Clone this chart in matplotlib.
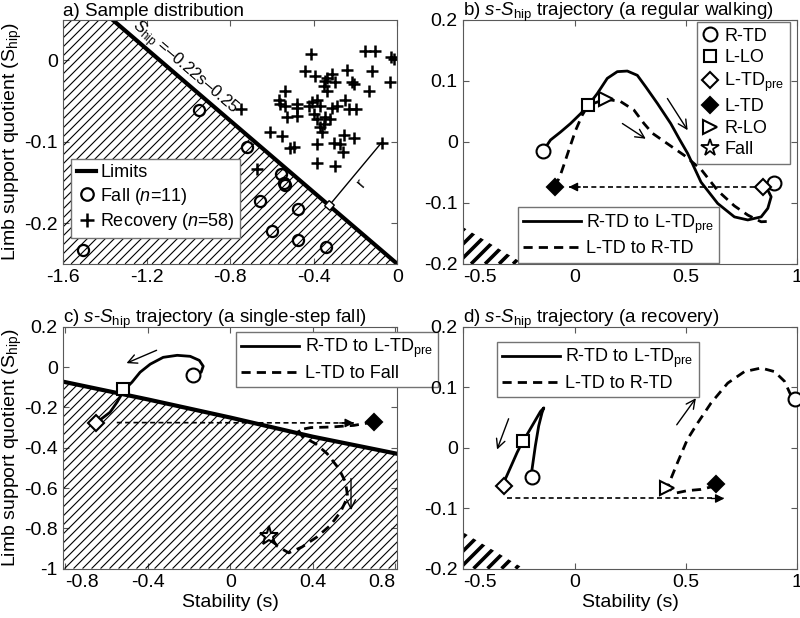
import numpy as np
import matplotlib
matplotlib.use('Agg')
import matplotlib.pyplot as plt
from matplotlib.lines import Line2D
from matplotlib.patches import Polygon
from matplotlib.ticker import FormatStrFormatter

plt.rcParams['font.family'] = ['Liberation Sans', 'DejaVu Sans']
plt.rcParams['mathtext.fontset'] = 'custom'
plt.rcParams['mathtext.rm'] = 'Liberation Sans'
plt.rcParams['mathtext.it'] = 'Liberation Sans:italic'
plt.rcParams['axes.unicode_minus'] = False

# ---- data ----
limit_slope, limit_icpt = -0.22, -0.25

# a) sample distribution
fall_s = [-0.949, -0.72, -0.555, -0.542, -0.536, -0.658, -0.475, -0.60, -0.475, -0.341, -1.507]
fall_S = [-0.061, -0.106, -0.140, -0.150, -0.153, -0.173, -0.183, -0.210, -0.221, -0.229, -0.233]
rec_s = [-0.411, -0.152, -0.104, -0.029, -0.016, -0.035, -0.12, -0.24, -0.443, -0.392, -0.344, -0.312,
         -0.352, -0.296, -0.216, -0.208, -0.136, -0.336, -0.536, -0.568, -0.536, -0.48, -0.424, -0.408,
         -0.384, -0.368, -0.312, -0.288, -0.248, -0.232, -0.195, -0.528, -0.48, -0.384, -0.344, -0.32,
         -0.368, -0.36, -0.608, -0.552, -0.512, -0.496, -0.384, -0.304, -0.272, -0.256, -0.208, -0.261,
         -0.384, -0.296, -0.747, -0.075, -0.336, -0.352, -0.48, -0.56, -0.4, -0.672]
rec_S = [0.008, 0.012, 0.012, 0.004, 0.002, -0.027, -0.013, -0.012, -0.013, -0.0185, -0.025, -0.0165,
         -0.031, -0.027, -0.027, -0.029, -0.038, -0.037, -0.038, -0.049, -0.056, -0.058, -0.056, -0.051,
         -0.049, -0.056, -0.058, -0.056, -0.049, -0.060, -0.060, -0.070, -0.068, -0.072, -0.070, -0.072,
         -0.082, -0.088, -0.088, -0.093, -0.107, -0.106, -0.103, -0.101, -0.103, -0.091, -0.095, -0.113,
         -0.126, -0.130, -0.060, -0.101, -0.021, -0.078, -0.0535, -0.0535, -0.066, -0.134]
r_point = (-0.075, -0.101)
r_foot = (-0.325, -0.178)

# b) regular walking
b_solid_s = [-0.141, -0.108, -0.063, -0.018, 0.027, 0.062, 0.102, 0.147, 0.192, 0.237, 0.282, 0.320,
             0.372, 0.432, 0.470, 0.508, 0.568, 0.643, 0.718, 0.778, 0.838, 0.868, 0.883, 0.868, 0.845]
b_solid_S = [-0.015, 0.003, 0.016, 0.030, 0.046, 0.060, 0.079, 0.104, 0.115, 0.116, 0.109, 0.090,
             0.063, 0.030, 0.005, -0.019, -0.066, -0.101, -0.123, -0.128, -0.123, -0.109, -0.090, -0.079, -0.074]
b_dash_s = [-0.089, -0.066, -0.048, -0.026, 0.005, 0.035, 0.062, 0.14, 0.207, 0.267, 0.312, 0.350,
            0.417, 0.492, 0.568, 0.643, 0.718, 0.778, 0.838, 0.890]
b_dash_S = [-0.074, -0.057, -0.038, -0.014, 0.019, 0.044, 0.060, 0.070, 0.066, 0.052, 0.030, 0.014,
            -0.003, -0.022, -0.045, -0.080, -0.105, -0.120, -0.131, -0.130]
b_rtd = ([-0.141, 0.898], [-0.015, -0.068])
b_llo = ([0.062], [0.060])
b_ltdpre = ([0.845], [-0.074])
b_ltd = ([-0.089], [-0.074])
b_rlo = ([0.14], [0.070])
b_jump = ((0.845, -0.074), (-0.026, -0.074))
b_arrows = [((0.417, 0.071), (0.508, 0.019)), ((0.215, 0.030), (0.320, 0.005))]

# c) single-step fall
c_limit_s = [-0.81, -0.4, 0.0, 0.4, 0.81]
c_limit_S = [-0.072, -0.16, -0.25, -0.345, -0.43]
c_solid_s = [-0.180, -0.141, -0.131, -0.150, -0.194, -0.257, -0.325, -0.388, -0.437, -0.476, -0.515,
             -0.549, -0.583, -0.646]
c_solid_S = [-0.040, -0.025, 0.005, 0.034, 0.054, 0.059, 0.049, 0.015, -0.025, -0.074, -0.114,
             -0.174, -0.224, -0.273]
c_dash_s = [0.697, 0.60, 0.49, 0.39, 0.33, 0.35, 0.413, 0.470, 0.527, 0.559, 0.570, 0.535, 0.486,
            0.421, 0.348, 0.284, 0.23, 0.186]
c_dash_S = [-0.272, -0.289, -0.297, -0.300, -0.312, -0.345, -0.379, -0.429, -0.504, -0.570, -0.644,
            -0.719, -0.785, -0.843, -0.893, -0.922, -0.89, -0.836]
c_rtd = ([-0.18], [-0.04])
c_llo = ([-0.518], [-0.106])
c_ltdpre = ([-0.651], [-0.275])
c_ltd = ([0.697], [-0.272])
c_fall = ([0.186], [-0.836])
c_jump = ((-0.55, -0.275), (0.60, -0.277))
c_arrows = [((-0.357, 0.084), (-0.503, 0.020)), ((0.586, -0.553), (0.586, -0.710))]

# d) recovery
d_solid_s = [-0.198, -0.191, -0.176, -0.161, -0.146, -0.138, -0.153, -0.183, -0.213, -0.231, -0.258,
             -0.288, -0.311, -0.321]
d_solid_S = [-0.047, -0.036, 0.003, 0.036, 0.058, 0.066, 0.060, 0.041, 0.022, 0.012, -0.008,
             -0.033, -0.052, -0.063]
d_dash_s = [0.635, 0.567, 0.507, 0.455, 0.417, 0.432, 0.462, 0.507, 0.553, 0.613, 0.688, 0.763,
            0.838, 0.898, 0.943, 0.980]
d_dash_S = [-0.063, -0.069, -0.071, -0.075, -0.066, -0.052, -0.025, 0.014, 0.041, 0.074, 0.107, 0.126,
            0.132, 0.126, 0.110, 0.080]
d_rtd = ([-0.191, 0.988], [-0.048, 0.081])
d_llo = ([-0.231], [0.011])
d_ltdpre = ([-0.318], [-0.064])
d_ltd = ([0.635], [-0.060])
d_rlo = ([0.417], [-0.066])
d_jump = ((-0.303, -0.084), (0.673, -0.084))
d_arrows = [((-0.296, 0.048), (-0.348, -0.003)), ((0.459, 0.038), (0.545, 0.082))]

# ---- helpers ----
FS = 14
LEG = dict(fancybox=False, framealpha=1, edgecolor='0.45', fontsize=13, borderaxespad=0,
           borderpad=0.3, labelspacing=0.25)


def style(ax, xt, yt):
    ax.set_xticks(xt)
    ax.set_yticks(yt)
    ax.xaxis.set_major_formatter(FormatStrFormatter('%g'))
    ax.yaxis.set_major_formatter(FormatStrFormatter('%g'))
    ax.tick_params(direction='in', top=True, right=True, length=4, width=0.8,
                   color='0.35', labelsize=FS, pad=4)
    for sp in ax.spines.values():
        sp.set_linewidth(0.8)
        sp.set_color('0.35')


def hatch(ax, verts, step, lw):
    # diagonal hatch lines drawn in display space, clipped to the polygon
    poly = Polygon(verts, closed=True, fill=False, edgecolor='none')
    ax.add_patch(poly)
    bb = ax.bbox
    h = bb.height
    inv = ax.transData.inverted()
    for x in np.arange(bb.x0 - h, bb.x1 + step, step):
        pts = inv.transform([(x, bb.y0), (x + h, bb.y1)])
        ln, = ax.plot(pts[:, 0], pts[:, 1], color='k', lw=lw, solid_capstyle='butt')
        ln.set_clip_path(poly)


def arrow(ax, p0, p1):
    ax.annotate('', xy=p1, xytext=p0,
                arrowprops=dict(arrowstyle='->', lw=1, color='k', shrinkA=0, shrinkB=0,
                                mutation_scale=16))


def jump(ax, p0, p1):
    ax.plot([p0[0], p1[0]], [p0[1], p1[1]], color='k', lw=1.2, dashes=(3, 2))
    dx = (p1[0] - p0[0]) * 0.06
    ax.annotate('', xy=p1, xytext=(p1[0] - dx, p1[1]),
                arrowprops=dict(arrowstyle='-|>', lw=1, color='k', shrinkA=0, shrinkB=0,
                                mutation_scale=13))


def mk(ax, pts, marker, ms, filled=False):
    ax.plot(pts[0], pts[1], ls='none', marker=marker, ms=ms, mec='k',
            mfc='k' if filled else 'white', mew=1.5, clip_on=False, zorder=5)


def traj(ax, s1, S1, s2, S2):
    ax.plot(s1, S1, color='k', lw=2)
    ax.plot(s2, S2, color='k', lw=2, dashes=(3.3, 2.2))


def edge_labels(ax, first='left', last=None):
    ticks = ax.xaxis.get_major_ticks()
    ticks[0].label1.set_horizontalalignment(first)
    if last:
        ticks[-1].label1.set_horizontalalignment(last)


fig = plt.figure(figsize=(8, 6.18), dpi=100)
ax_a = fig.add_axes([0.079, 0.573, 0.4175, 0.395])
ax_b = fig.add_axes([0.579, 0.573, 0.4175, 0.395])
ax_c = fig.add_axes([0.079, 0.080, 0.4175, 0.391])
ax_d = fig.add_axes([0.579, 0.080, 0.4175, 0.391])

# ---- a) ----
ax = ax_a
ax.set_xlim(-1.6, 0)
ax.set_ylim(-0.25, 0.05)
ls = np.array([-1.6, 0.0])
hatch(ax, [(-1.6, -0.3), (-1.6, limit_slope * -1.6 + limit_icpt), (0.0, limit_icpt), (0.0, -0.3)], 9, 0.8)
ax.plot(ls, limit_slope * ls + limit_icpt, color='k', lw=3)
ax.plot(fall_s, fall_S, ls='none', marker='o', ms=8, mfc='none', mec='k', mew=1.6)
ax.plot(rec_s, rec_S, ls='none', marker='+', ms=9, mec='k', mew=1.8)
ax.plot([r_point[0], r_foot[0]], [r_point[1], r_foot[1]], color='k', lw=1)
ax.plot([r_foot[0]], [r_foot[1]], ls='none', marker=(4, 0, 4), ms=7, mfc='white', mec='k', mew=1)
ax.text(-0.17, -0.15, 'r', fontsize=12, rotation=50, ha='center', va='center')
p = ax.transData.transform([(-1.3, limit_slope * -1.3 + limit_icpt), (-0.3, limit_slope * -0.3 + limit_icpt)])
ang = np.degrees(np.arctan2(p[1, 1] - p[0, 1], p[1, 0] - p[0, 0]))
ax.text(-1.02, -0.0095, r'$S_{\rm hip}$ =–0.22s–0.25', fontsize=12, rotation=ang,
        rotation_mode='anchor', ha='center', va='center')
style(ax, [-1.6, -1.2, -0.8, -0.4, 0], [-0.2, -0.1, 0])
ax.set_title('a) Sample distribution', loc='left', fontsize=13.5, pad=3)
ax.set_ylabel(r'Limb support quotient (S$_{\rm hip}$)', fontsize=FS)
ax.yaxis.set_label_coords(-0.118, 0.5)
h_a = [Line2D([], [], color='k', lw=3),
       Line2D([], [], ls='none', marker='o', ms=9, mfc='none', mec='k', mew=1.6),
       Line2D([], [], ls='none', marker='+', ms=10, mec='k', mew=1.8)]
ax.legend(h_a, ['Limits', r'Fall ($n$=11)', r'Recovery ($n$=58)'], loc='upper left',
          bbox_to_anchor=(0.089, 0.743), bbox_transform=fig.transFigure, handlelength=1.1,
          handletextpad=0.2, **LEG)

# ---- b) ----
ax = ax_b
ax.set_xlim(-0.5, 1)
ax.set_ylim(-0.2, 0.2)
hatch(ax, [(-0.6, -0.305), (-0.6, limit_slope * -0.6 + limit_icpt), (0.25, limit_slope * 0.25 + limit_icpt)], 14, 2.6)
traj(ax, b_solid_s, b_solid_S, b_dash_s, b_dash_S)
jump(ax, *b_jump)
for a0, a1 in b_arrows:
    arrow(ax, a0, a1)
mk(ax, b_rtd, 'o', 10)
mk(ax, b_llo, 's', 9)
mk(ax, b_ltdpre, 'D', 8)
mk(ax, b_ltd, 'D', 8, filled=True)
mk(ax, b_rlo, '>', 10)
style(ax, [-0.5, 0, 0.5, 1], [-0.2, -0.1, 0, 0.1, 0.2])
edge_labels(ax)
ax.set_title(r'b) $s$-$S_{\rm hip}$ trajectory (a regular walking)', loc='left', fontsize=13.5, pad=3)

mh = [Line2D([], [], ls='none', marker='o', ms=10, mfc='none', mec='k', mew=1.5),
      Line2D([], [], ls='none', marker='s', ms=9, mfc='none', mec='k', mew=1.5),
      Line2D([], [], ls='none', marker='D', ms=8, mfc='none', mec='k', mew=1.5),
      Line2D([], [], ls='none', marker='D', ms=8, mfc='k', mec='k', mew=1.5),
      Line2D([], [], ls='none', marker='>', ms=10, mfc='none', mec='k', mew=1.5),
      Line2D([], [], ls='none', marker='*', ms=13, mfc='none', mec='k', mew=1.3)]
mlab = ['R-TD', 'L-LO', r'L-TD$_{\rm pre}$', 'L-TD', 'R-LO', 'Fall']
leg1 = ax.legend(mh, mlab, loc='upper right', bbox_to_anchor=(0.987, 0.964),
                 bbox_transform=fig.transFigure, handlelength=0.8, handletextpad=0.4, **LEG)
ax.add_artist(leg1)
lh = [Line2D([], [], color='k', lw=2), Line2D([], [], color='k', lw=2, dashes=(3.3, 2.2))]
ax.legend(lh, [r'R-TD to L-TD$_{\rm pre}$', 'L-TD to R-TD'], loc='upper left',
          bbox_to_anchor=(0.647, 0.665), bbox_transform=fig.transFigure, handlelength=3.2,
          handletextpad=0.3, **LEG)

# ---- c) ----
ax = ax_c
ax.set_xlim(-0.81, 0.81)
ax.set_ylim(-1, 0.2)
hatch(ax, list(zip(c_limit_s, c_limit_S)) + [(0.81, -1.1), (-0.81, -1.1)], 9, 0.8)
ax.plot(c_limit_s, c_limit_S, color='k', lw=3)
traj(ax, c_solid_s, c_solid_S, c_dash_s, c_dash_S)
jump(ax, *c_jump)
for a0, a1 in c_arrows:
    arrow(ax, a0, a1)
mk(ax, c_rtd, 'o', 10)
mk(ax, c_llo, 's', 9)
mk(ax, c_ltdpre, 'D', 8)
mk(ax, c_ltd, 'D', 8, filled=True)
ax.plot(c_fall[0], c_fall[1], ls='none', marker='*', ms=14, mfc='none', mec='k', mew=1.5, zorder=5)
style(ax, [-0.8, -0.4, 0, 0.4, 0.8], [-1, -0.8, -0.6, -0.4, -0.2, 0, 0.2])
edge_labels(ax, 'left', 'right')
ax.set_title(r'c) $s$-$S_{\rm hip}$ trajectory (a single-step fall)', loc='left', fontsize=13.5, pad=3)
ax.set_ylabel(r'Limb support quotient (S$_{\rm hip}$)', fontsize=FS)
ax.yaxis.set_label_coords(-0.118, 0.5)
ax.set_xlabel('Stability (s)', fontsize=FS, labelpad=2)
ax.legend(lh, [r'R-TD to L-TD$_{\rm pre}$', 'L-TD to Fall'], loc='upper left',
          bbox_to_anchor=(0.295, 0.463), bbox_transform=fig.transFigure, handlelength=3.2,
          handletextpad=0.3, **LEG)

# ---- d) ----
ax = ax_d
ax.set_xlim(-0.5, 1)
ax.set_ylim(-0.2, 0.2)
hatch(ax, [(-0.6, -0.305), (-0.6, limit_slope * -0.6 + limit_icpt), (0.25, limit_slope * 0.25 + limit_icpt)], 14, 2.6)
traj(ax, d_solid_s, d_solid_S, d_dash_s, d_dash_S)
jump(ax, *d_jump)
for a0, a1 in d_arrows:
    arrow(ax, a0, a1)
mk(ax, d_rtd, 'o', 10)
mk(ax, d_llo, 's', 9)
mk(ax, d_ltdpre, 'D', 8)
mk(ax, d_ltd, 'D', 8, filled=True)
mk(ax, d_rlo, '>', 10)
style(ax, [-0.5, 0, 0.5, 1], [-0.2, -0.1, 0, 0.1, 0.2])
edge_labels(ax)
ax.set_title(r'd) $s$-$S_{\rm hip}$ trajectory (a recovery)', loc='left', fontsize=13.5, pad=3)
ax.set_xlabel('Stability (s)', fontsize=FS, labelpad=2)
ax.legend(lh, [r'R-TD to L-TD$_{\rm pre}$', 'L-TD to R-TD'], loc='upper left',
          bbox_to_anchor=(0.621, 0.447), bbox_transform=fig.transFigure, handlelength=3.2,
          handletextpad=0.3, **LEG)

fig.savefig('out.png', dpi=100)
